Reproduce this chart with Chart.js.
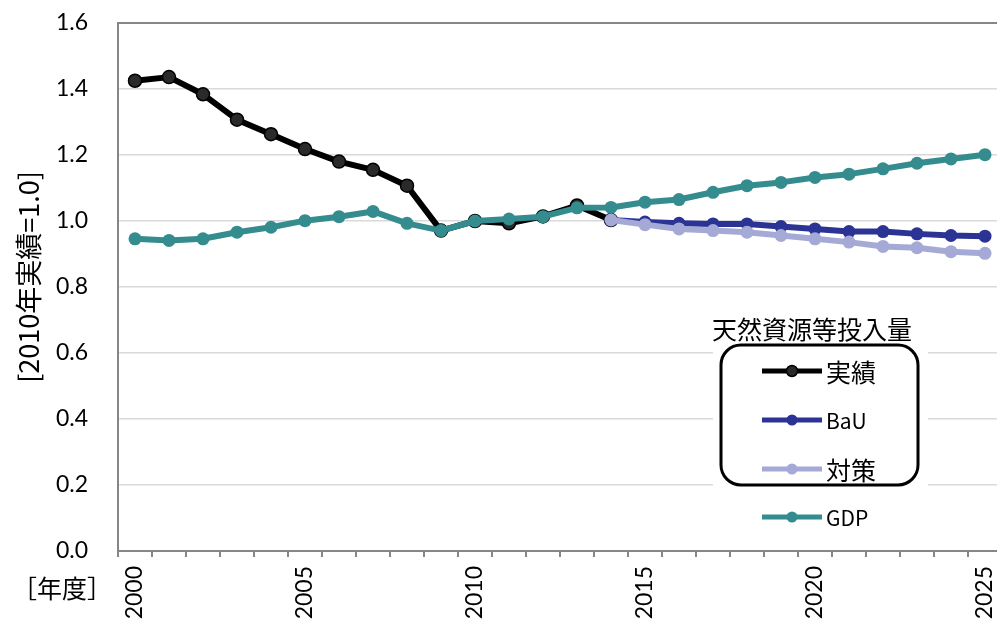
<!DOCTYPE html>
<html lang="ja">
<head>
<meta charset="utf-8">
<script src="https://cdn.jsdelivr.net/npm/chart.js@4/dist/chart.umd.min.js"></script>
<style>
html, body { margin: 0; padding: 0; background: #fff; overflow: hidden; }
#wrap { width: 997px; height: 619px; overflow: hidden; }
canvas { display: block; }
</style>
</head>
<body>
<div id="wrap"><canvas id="c" width="1010" height="619"></canvas></div>
<script>
// 年度
const years = [2000, 2001, 2002, 2003, 2004, 2005, 2006, 2007, 2008, 2009,
               2010, 2011, 2012, 2013, 2014, 2015, 2016, 2017, 2018, 2019,
               2020, 2021, 2022, 2023, 2024, 2025];

// 天然資源等投入量（2010年実績＝1.0）
const actual = [1.425, 1.436, 1.384, 1.307, 1.263, 1.218, 1.180, 1.155, 1.107, 0.971,
                1.000, 0.993, 1.014, 1.047, 1.003, null, null, null, null, null,
                null, null, null, null, null, null];
const bau    = [null, null, null, null, null, null, null, null, null, null,
                null, null, null, null, 1.003, 0.997, 0.993, 0.991, 0.991, 0.983,
                0.976, 0.968, 0.968, 0.961, 0.956, 0.954];
const policy = [null, null, null, null, null, null, null, null, null, null,
                null, null, null, null, 1.003, 0.989, 0.976, 0.971, 0.966, 0.956,
                0.946, 0.936, 0.923, 0.919, 0.907, 0.902];
// GDP（2010年実績＝1.0）
const gdp    = [0.946, 0.941, 0.946, 0.966, 0.981, 1.001, 1.013, 1.029, 0.993, 0.971,
                1.000, 1.006, 1.013, 1.040, 1.041, 1.057, 1.065, 1.087, 1.107, 1.117,
                1.132, 1.142, 1.158, 1.175, 1.188, 1.201];

const seriesNames = ['実績', 'BaU', '対策', 'GDP'];
const legendTitle = '天然資源等投入量';
const yTitle = '[2010年実績=1.0]';
const xTitle = '［年度］';

const AXIS = '#868686';
const GRID = '#d9d9d9';
const JP = '"Noto Sans CJK JP", "Noto Sans", sans-serif';
const NUM = 'Lato, "Open Sans", sans-serif';

function lineSet(label, data, color, fill, order, border) {
  return {
    label, data, order,
    borderColor: color,
    backgroundColor: fill,
    pointBackgroundColor: fill,
    pointBorderColor: border || fill,
    pointBorderWidth: border ? 1.5 : 0,
    pointRadius: 6.5,
    pointHoverRadius: 6.5,
    borderWidth: 6,
    borderJoinStyle: 'round',
    borderCapStyle: 'round',
    tension: 0,
    spanGaps: false
  };
}

// 凡例の背景（目盛線を隠す）
const legendBackdrop = {
  id: 'legendBackdrop',
  beforeDatasetsDraw(chart) {
    const c = chart.ctx;
    c.save();
    c.fillStyle = '#ffffff';
    c.fillRect(713, 302, 215, 240);
    c.restore();
  }
};

// 凡例・軸タイトル
const customLegend = {
  id: 'customLegend',
  afterDraw(chart) {
    const c = chart.ctx;
    c.save();
    c.fillStyle = '#000';
    c.textBaseline = 'middle';

    c.textAlign = 'center';
    c.font = '25px ' + JP;
    c.fillText(legendTitle, 812, 329);

    c.beginPath();
    c.lineWidth = 3;
    c.strokeStyle = '#000';
    c.roundRect(721, 345, 197, 140, 20);
    c.stroke();

    const rows = [371, 420, 469, 517];
    const sizes = [25, 21, 25, 21];
    chart.data.datasets.forEach((ds, i) => {
      const y = rows[i];
      c.beginPath();
      c.lineWidth = 5;
      c.lineCap = 'butt';
      c.strokeStyle = ds.borderColor;
      c.moveTo(762, y);
      c.lineTo(822, y);
      c.stroke();
      c.beginPath();
      c.arc(792, y, 5.5, 0, Math.PI * 2);
      c.fillStyle = ds.pointBackgroundColor;
      c.fill();
      if (ds.pointBorderWidth) {
        c.lineWidth = 1.5;
        c.strokeStyle = ds.pointBorderColor;
        c.stroke();
      }
      c.fillStyle = '#000';
      c.textAlign = 'left';
      c.font = sizes[i] + 'px ' + JP;
      c.fillText(ds.label, 826, y + 1);
    });

    // 横軸タイトル
    c.fillStyle = '#000';
    c.textAlign = 'left';
    c.font = '25px ' + JP;
    c.fillText(xTitle, 12, 588);

    // 縦軸タイトル
    c.save();
    c.translate(29, 277);
    c.rotate(-Math.PI / 2);
    c.textAlign = 'center';
    c.font = '27px ' + JP;
    c.fillText(yTitle, 0, 0);
    c.restore();

    c.restore();
  }
};

new Chart(document.getElementById('c'), {
  type: 'line',
  data: {
    labels: years.map(String),
    datasets: [
      lineSet(seriesNames[0], actual, '#000000', '#2a2a2a', 4, '#000000'),
      lineSet(seriesNames[1], bau, '#2B3494', '#2B3494', 3),
      lineSet(seriesNames[2], policy, '#A4AAD5', '#A4AAD5', 2),
      lineSet(seriesNames[3], gdp, '#358C8E', '#358C8E', 1)
    ]
  },
  options: {
    responsive: false,
    animation: false,
    devicePixelRatio: 1,
    layout: { padding: { top: 23, left: 0, right: 0, bottom: 0 } },
    plugins: {
      legend: { display: false },
      tooltip: { enabled: false }
    },
    scales: {
      x: {
        type: 'category',
        offset: true,
        grid: {
          offset: true,
          drawOnChartArea: false,
          drawTicks: true,
          tickLength: 6,
          color: AXIS,
          lineWidth: 2
        },
        border: { color: AXIS, width: 2 },
        ticks: {
          autoSkip: false,
          maxRotation: 90,
          minRotation: 90,
          padding: 9,
          color: '#000',
          font: { family: NUM, size: 23 },
          callback: (v, i) => (years[i] % 5 === 0 ? String(years[i]) : '')
        },
        afterFit(s) {
          s.height = 68;
          s.paddingLeft = 0;
          s.paddingRight = 0;
        }
      },
      y: {
        min: 0,
        max: 1.6,
        ticks: {
          stepSize: 0.2,
          padding: 30,
          color: '#000',
          font: { family: NUM, size: 23 },
          callback: v => Number(v).toFixed(1)
        },
        grid: {
          drawTicks: false,
          color: ctx => (ctx.tick && Math.abs(ctx.tick.value - 1.6) < 1e-6) ? AXIS : GRID,
          lineWidth: ctx => (ctx.tick && Math.abs(ctx.tick.value - 1.6) < 1e-6) ? 2 : 1.5
        },
        border: { color: AXIS, width: 2 },
        afterFit(s) {
          s.width = 118;
          s.paddingTop = 0;
          s.paddingBottom = 0;
        }
      }
    }
  },
  plugins: [legendBackdrop, customLegend]
});
</script>
</body>
</html>
